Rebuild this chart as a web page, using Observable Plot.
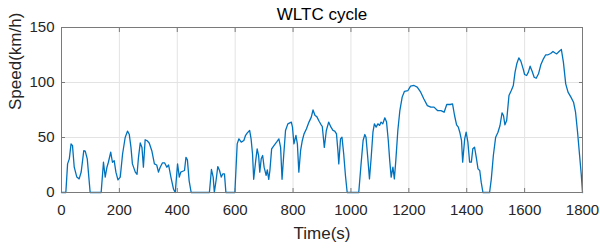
<!DOCTYPE html>
<html>
<head>
<meta charset="utf-8">
<script src="https://cdn.jsdelivr.net/npm/d3@7"></script>
<script src="https://cdn.jsdelivr.net/npm/@observablehq/plot@0.6"></script>
<style>
  html, body { margin: 0; padding: 0; background: #fff; }
  #chart svg { display: block; font-family: "Liberation Sans", Arial, Helvetica, sans-serif; }
</style>
</head>
<body>
<div id="chart"></div>
<script>
const title = "WLTC cycle";
const xLabel = "Time(s)";
const yLabel = "Speed(km/h)";
const xTicks = [0, 200, 400, 600, 800, 1000, 1200, 1400, 1600, 1800];
const yTicks = [0, 50, 100, 150];

const time = [
  0, 15, 21, 27, 33, 38, 44, 53, 61, 68, 77, 82, 89, 99,
  137, 145, 151, 157, 162, 170, 176, 182, 188, 195, 203, 211, 220, 228, 234, 240,
  245, 255, 261, 266, 272, 278, 283, 289, 296, 303, 312, 321, 329, 335, 341, 349,
  356, 364, 370, 378, 387, 393, 401, 407, 412, 419, 425, 430, 435, 441, 448,
  511, 518, 524, 528, 534, 540, 546, 552, 557, 563, 568,
  599, 607, 613, 621, 630, 636, 642, 650, 655, 660, 664, 671, 676, 681, 685, 690,
  695, 700, 707, 711, 716, 720, 726, 734, 743, 751, 757, 762, 768, 774, 782, 794,
  798, 803, 810, 815, 820, 826, 832, 838, 846, 855, 863, 869, 876, 882, 890, 896,
  901, 908, 915, 923, 931, 938, 944, 950, 955, 958, 964, 969, 975, 981, 987,
  1027, 1035, 1042, 1048, 1052, 1058, 1064, 1070, 1076, 1081, 1087, 1093, 1099,
  1104, 1110, 1117, 1123, 1129, 1134, 1139, 1145, 1150, 1155, 1162, 1169, 1177,
  1185, 1197, 1206, 1218, 1229, 1241, 1252, 1264, 1276, 1287, 1299, 1311, 1322,
  1331, 1343, 1351, 1358, 1365, 1371, 1376, 1382, 1386, 1393, 1398, 1404, 1410,
  1416, 1421, 1427, 1433, 1439, 1445, 1450, 1456,
  1479, 1485, 1492, 1500, 1508, 1515, 1522, 1527, 1532, 1538, 1546, 1554, 1561,
  1567, 1573, 1580, 1587, 1595, 1600, 1607, 1613, 1619, 1626, 1633, 1640, 1648,
  1656, 1665, 1673, 1681, 1690, 1698, 1704, 1711, 1719, 1727, 1734, 1742, 1750,
  1760, 1769, 1776, 1783, 1790, 1796, 1800
];
const speed = [
  0, 0, 26, 30.6, 44.2, 42.6, 23, 14, 12.4, 18.6, 38, 37.6, 30.6, 0,
  0, 27.5, 14, 23, 27.5, 36.7, 27.5, 29, 18.5, 11.5, 14, 35, 50, 55.8, 53, 41,
  26, 18.5, 16.6, 32, 45, 41, 23, 48, 47, 45, 38, 26, 25, 18.5, 23, 27,
  27, 23, 25, 14, 3, 0, 26, 14, 18.5, 19.3, 20, 32, 29.7, 10.6, 0,
  0, 20.9, 14, 0, 10.9, 23.6, 20, 14, 16.9, 16.9, 0,
  0, 44.2, 48.8, 45.8, 47.3, 52, 54.2, 56.4, 48.8, 35, 12, 29, 39.7, 33.6, 18.5, 30.6,
  33.6, 23, 15.5, 20.6, 12, 20, 39.7, 42.7, 45.8, 48.8, 41, 12, 35, 56.4, 62.4, 64,
  59.4, 44.2, 52, 44, 18.5, 38, 47.3, 53.3, 57.8, 64, 68.5, 75, 70, 69, 64.8, 62,
  60, 41, 56.4, 64, 59.4, 56.4, 55.8, 53.3, 38, 26, 48.8, 50.3, 35, 15.5, 0,
  0, 26, 47.3, 52.7, 50.3, 32, 12.4, 32, 54.8, 62.4, 59.4, 62.4, 61,
  64, 62.4, 67.9, 64, 47.3, 29, 14, 23, 12.4, 29, 56.4, 74.5, 86.7,
  92, 92.7, 96.7, 97.3, 95.8, 91.2, 85, 79, 77.6, 77.6, 74.5, 74.5, 73,
  80, 80, 80.6, 70, 61.5, 59.4, 54.8, 47.3, 27.6, 48.8, 54.8, 45.8, 27.6,
  27.6, 39.7, 41.2, 32, 21.5, 20, 9.4, 0,
  0, 12.4, 33.6, 50.3, 54.8, 60.9, 72.4, 70, 61.5, 65.5, 88.2, 92.7, 97.3,
  109.4, 117, 122.4, 119.4, 112.4, 107.3, 106.4, 109.4, 114.8, 110.3, 104.8, 103.9, 107.9,
  116.1, 121.5, 125.2, 125.2, 126.4, 128.2, 127, 126, 128.2, 130, 118.5, 98.8, 91.2,
  86.7, 82.1, 73, 54.8, 33.6, 15.5, 0
];

const data = time.map((t, i) => ({t, v: speed[i]}));

const axisColor = "#262626";
const frameColor = "#7a7a7a";
const chart = Plot.plot({
  width: 600,
  height: 251,
  marginLeft: 61,
  marginRight: 18,
  marginTop: 27,
  marginBottom: 59,
  style: {fontFamily: "'Liberation Sans', Arial, Helvetica, sans-serif", background: "#fff", color: axisColor},
  x: {domain: [0, 1800], axis: null},
  y: {domain: [0, 150], axis: null},
  marks: [
    Plot.gridX(xTicks, {stroke: "#e3e3e3", strokeOpacity: 1}),
    Plot.gridY(yTicks, {stroke: "#e3e3e3", strokeOpacity: 1}),
    Plot.line(data, {x: "t", y: "v", stroke: "#0072BD", strokeWidth: 1.3, curve: "linear"}),
    Plot.frame({stroke: frameColor, strokeWidth: 1}),
    Plot.axisX(xTicks, {anchor: "bottom", tickSize: -4, tickFormat: () => "", stroke: frameColor, label: null}),
    Plot.axisX(xTicks, {anchor: "top", tickSize: -4, tickFormat: () => "", stroke: frameColor, label: null}),
    Plot.axisY(yTicks, {anchor: "left", tickSize: -4, tickFormat: () => "", stroke: frameColor, label: null}),
    Plot.axisY(yTicks, {anchor: "right", tickSize: -4, tickFormat: () => "", stroke: frameColor, label: null}),
    Plot.axisX(xTicks, {anchor: "bottom", tickSize: 0, tickPadding: 11.4, fontSize: 15, fill: axisColor, label: null, tickFormat: d => String(d)}),
    Plot.axisY(yTicks, {anchor: "left", tickSize: 0, tickPadding: 7, fontSize: 15, fill: axisColor, label: null, tickFormat: d => String(d)}),
    Plot.text([title], {frameAnchor: "top", dy: -13.4, lineAnchor: "middle", fontSize: 17, fill: "#000"}),
    Plot.text([xLabel], {frameAnchor: "bottom", dy: 40.6, lineAnchor: "middle", fontSize: 17, fill: axisColor}),
    Plot.text([yLabel], {frameAnchor: "left", dx: -46.4, rotate: -90, lineAnchor: "middle", fontSize: 17, fill: axisColor})
  ]
});
document.getElementById("chart").appendChild(chart);
</script>
</body>
</html>
